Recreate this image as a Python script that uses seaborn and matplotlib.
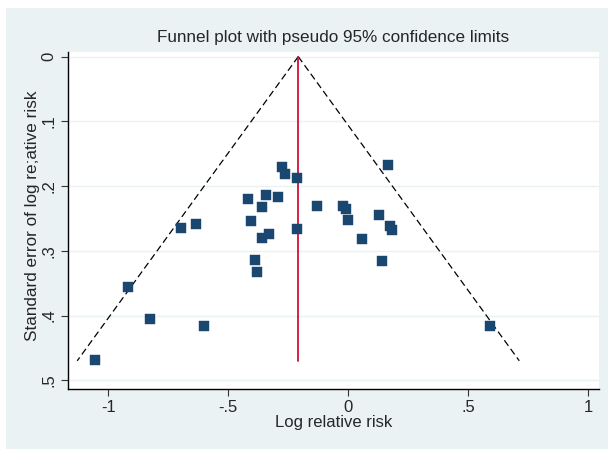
# funnel plot, Stata s2color look
import matplotlib
matplotlib.use("Agg")
import numpy as np
import pandas as pd
import seaborn as sns
import matplotlib.pyplot as plt
from matplotlib.patches import Rectangle

# log relative risk and its standard error
log_rr = [-0.275, -0.262, -0.212, 0.167, -0.416, -0.341, -0.291, -0.358, -0.129, -0.020,
          -0.010, 0.130, 0.000, -0.404, 0.174, 0.184, -0.212, -0.329, -0.358, 0.058,
          -0.387, 0.141, -0.380, -0.918, -0.825, -0.601, -1.054, 0.591, -0.695, -0.635]
se_log_rr = [0.171, 0.182, 0.188, 0.168, 0.220, 0.214, 0.217, 0.233, 0.231, 0.231,
             0.235, 0.244, 0.252, 0.254, 0.262, 0.268, 0.267, 0.274, 0.280, 0.282,
             0.314, 0.316, 0.333, 0.356, 0.405, 0.416, 0.468, 0.416, 0.265, 0.258]

pooled = -0.208
se_max = 0.47
z = 1.96

xticks = [-1, -0.5, 0, 0.5, 1]
xticklabels = ["-1", "-.5", "0", ".5", "1"]
yticks = [0, 0.1, 0.2, 0.3, 0.4, 0.5]
yticklabels = ["0", ".1", ".2", ".3", ".4", ".5"]

df = pd.DataFrame({"logrr": log_rr, "se": se_log_rr})

sns.set_style("white")
plt.rcParams["font.family"] = ["Liberation Sans", "DejaVu Sans"]

bg = "#EAF2F3"
fig = plt.figure(figsize=(6.08, 4.49), dpi=100)
fig.patch.set_facecolor("white")
fig.patches.append(Rectangle((6 / 608, 0), 1, 1 - 8 / 449, transform=fig.transFigure,
                             facecolor=bg, edgecolor="none", zorder=-10))
ax = fig.add_axes([0.1113, 0.133, 0.985 - 0.1113, 0.884 - 0.133])
ax.set_facecolor("white")

# pseudo 95% limits
se_line = np.array([0, se_max])
ax.plot(pooled - z * se_line, se_line, color="black", lw=0.9, ls=(0, (5.5, 3)), zorder=2)
ax.plot(pooled + z * se_line, se_line, color="black", lw=0.9, ls=(0, (5.5, 3)), zorder=2)
ax.plot([pooled, pooled], [0, se_max], color="#D0103A", lw=1.3, zorder=2)

sns.scatterplot(data=df, x="logrr", y="se", marker="s", s=62, color="#1A476F",
                edgecolor="#1A476F", linewidth=0.3, ax=ax, zorder=3)

ax.set_xlim(-1.169, 1.045)
ax.set_ylim(0.514, -0.007)
ax.set_xticks(xticks)
ax.set_xticklabels(xticklabels)
ax.set_yticks(yticks)
ax.set_yticklabels(yticklabels, rotation=90, va="center")
ax.grid(axis="y", color=bg, lw=1)
ax.set_axisbelow(True)

for s in ["top", "right"]:
    ax.spines[s].set_visible(False)
for s in ["left", "bottom"]:
    ax.spines[s].set_color("black")
    ax.spines[s].set_linewidth(1.0)
ax.tick_params(axis="both", direction="out", length=5, width=0.8, color="#333333",
               labelsize=12, pad=3, left=True, bottom=True)

ax.set_xlabel("Log relative risk", fontsize=12, labelpad=0)
ax.set_ylabel("Standard error of log re;ative risk", fontsize=12.3, labelpad=0)
ax.yaxis.set_label_coords(-0.052, 0.515)
ax.set_title("Funnel plot with pseudo 95% confidence limits", fontsize=12.3, pad=7)

fig.savefig("out.png", dpi=100, facecolor=fig.get_facecolor())
